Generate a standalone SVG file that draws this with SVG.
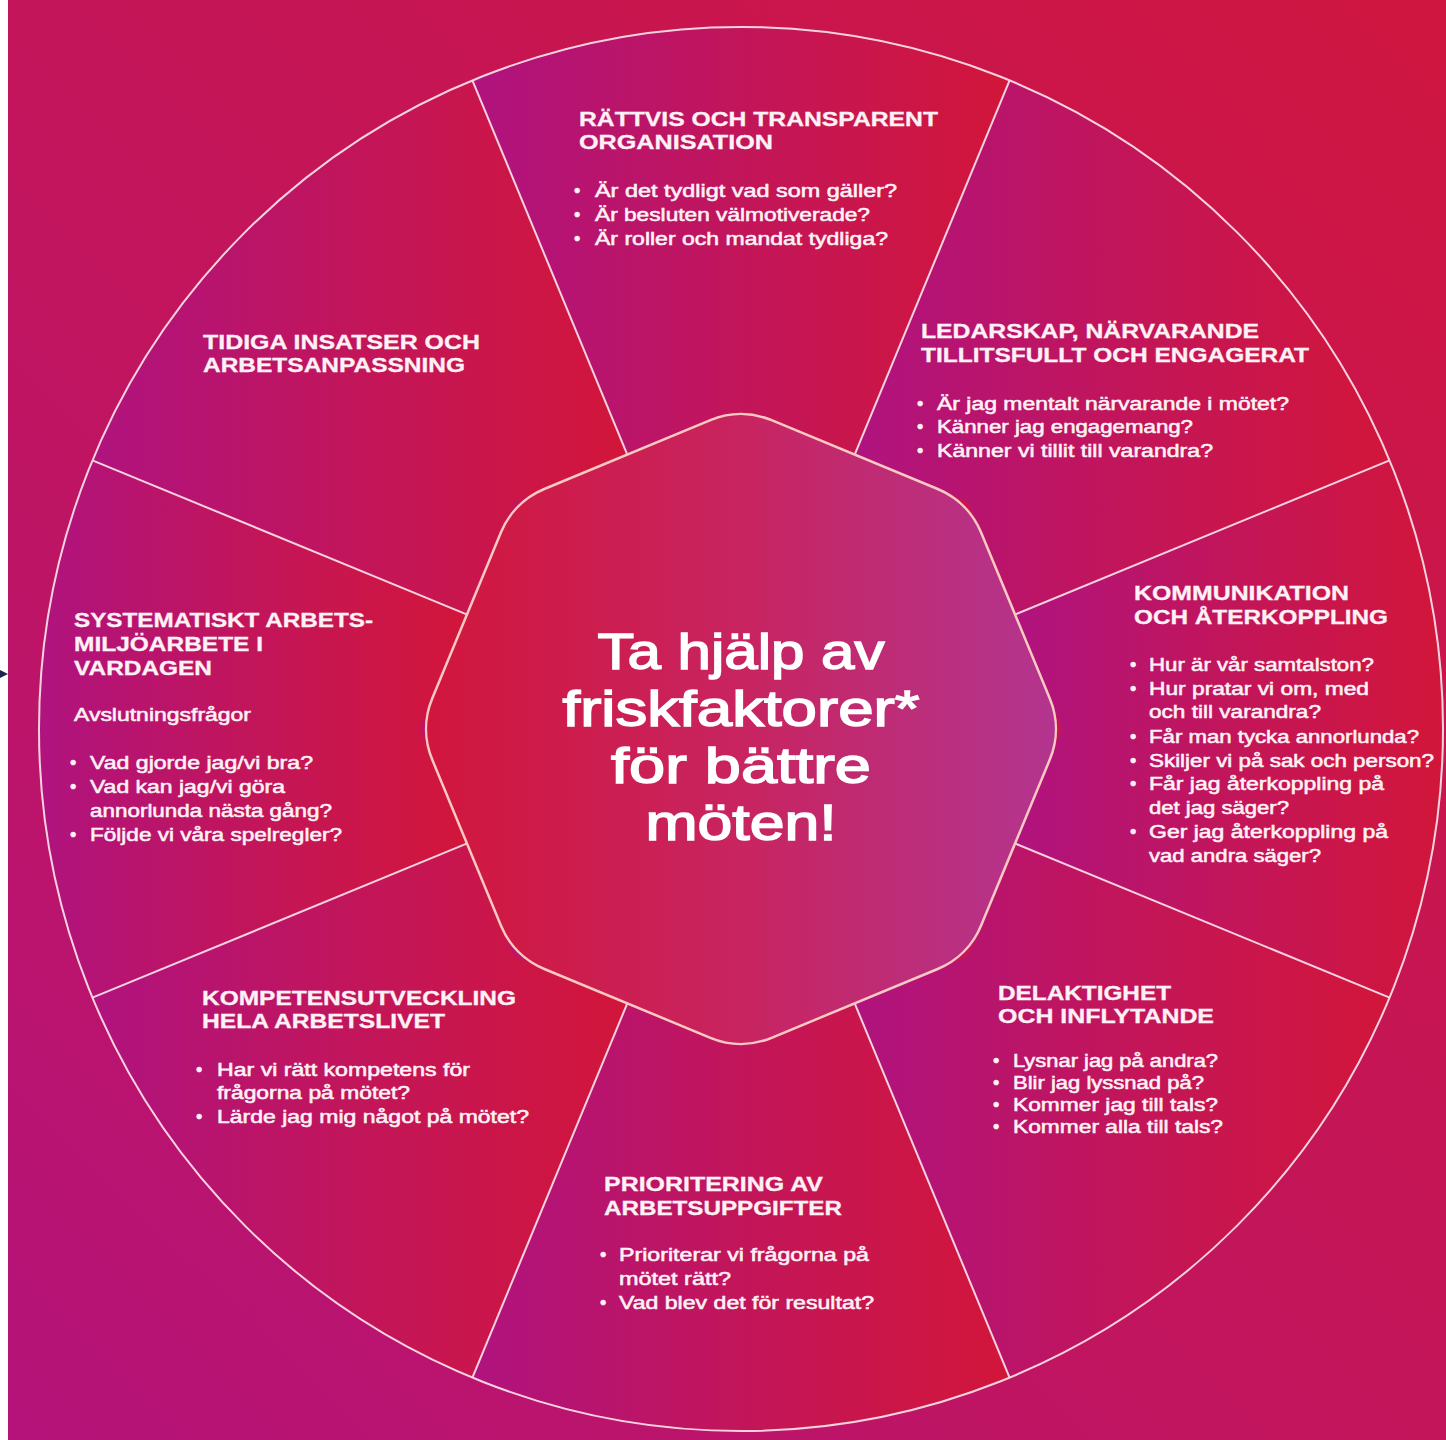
<svg xmlns="http://www.w3.org/2000/svg" width="1446" height="1440" viewBox="0 0 1446 1440">
<defs>
<linearGradient id="bg" x1="0" y1="1" x2="1" y2="0">
<stop offset="0" stop-color="#b5137a"/>
<stop offset="0.5" stop-color="#c3155a"/>
<stop offset="1" stop-color="#cf1640"/>
</linearGradient>
<linearGradient id="seg" x1="0" y1="0" x2="1" y2="0">
<stop offset="0" stop-color="#b0137f"/>
<stop offset="0.5" stop-color="#c2155a"/>
<stop offset="1" stop-color="#d2163a"/>
</linearGradient>
<linearGradient id="oct" x1="0" y1="0" x2="1" y2="0">
<stop offset="0" stop-color="#d1163d"/>
<stop offset="0.5" stop-color="#c82460"/>
<stop offset="1" stop-color="#b3358f"/>
</linearGradient>
<style>
.sg{fill:url(#seg)}
.ln{stroke:#f7d3df;stroke-width:2;fill:none}
.h{font-family:"Liberation Sans",Arial,sans-serif;font-weight:700;font-size:20px;fill:#fdf1f6;stroke:#fdf1f6;stroke-width:0.3}
.b{font-family:"Liberation Sans",Arial,sans-serif;font-weight:400;font-size:18px;fill:#fdf1f6;stroke:#fdf1f6;stroke-width:0.55}
.c{font-family:"Liberation Sans",Arial,sans-serif;font-weight:400;font-size:50px;fill:#ffffff;stroke:#ffffff;stroke-width:1.5;text-anchor:middle}
</style>
</defs>
<rect x="0" y="0" width="1446" height="1440" fill="#ffffff"/>
<rect x="8" y="0" width="1438" height="1440" fill="url(#bg)"/>
<polygon points="0,670 8,674 0,678" fill="#1b2350"/>

<g id="seg-rattvis"><path class="sg" d="M 627.3 454.6 L 472.4 80.4 A 702 702 0 0 1 1009.6 80.4 L 854.7 454.6 L 741 407.5 Z"/></g>
<g id="seg-ledarskap"><path class="sg" d="M 854.7 454.6 L 1009.6 80.4 A 702 702 0 0 1 1389.6 460.4 L 1015.4 614.3 L 968.3 501.7 Z"/></g>
<g id="seg-kommunikation"><path class="sg" d="M 1015.4 614.3 L 1389.6 460.4 A 702 702 0 0 1 1389.6 997.6 L 1015.4 843.7 L 1062.5 729 Z"/></g>
<g id="seg-delaktighet"><path class="sg" d="M 1015.4 843.7 L 1389.6 997.6 A 702 702 0 0 1 1009.6 1377.6 L 854.7 1003.4 L 968.3 956.3 Z"/></g>
<g id="seg-prioritering"><path class="sg" d="M 854.7 1003.4 L 1009.6 1377.6 A 702 702 0 0 1 472.4 1377.6 L 627.3 1003.4 L 741 1050.5 Z"/></g>
<g id="seg-kompetens"><path class="sg" d="M 627.3 1003.4 L 472.4 1377.6 A 702 702 0 0 1 92.4 997.6 L 466.6 843.7 L 513.7 956.3 Z"/></g>
<g id="seg-systematiskt"><path class="sg" d="M 466.6 843.7 L 92.4 997.6 A 702 702 0 0 1 92.4 460.4 L 466.6 614.3 L 419.5 729 Z"/></g>
<g id="seg-tidiga"><path class="sg" d="M 466.6 614.3 L 92.4 460.4 A 702 702 0 0 1 472.4 80.4 L 627.3 454.6 L 513.7 501.7 Z"/></g>

<g id="connectors">
<circle class="ln" cx="741" cy="729" r="702"/>
<line class="ln" x1="627.3" y1="454.6" x2="472.4" y2="80.4"/>
<line class="ln" x1="854.7" y1="454.6" x2="1009.6" y2="80.4"/>
<line class="ln" x1="1015.4" y1="614.3" x2="1389.6" y2="460.4"/>
<line class="ln" x1="1015.4" y1="843.7" x2="1389.6" y2="997.6"/>
<line class="ln" x1="854.7" y1="1003.4" x2="1009.6" y2="1377.6"/>
<line class="ln" x1="627.3" y1="1003.4" x2="472.4" y2="1377.6"/>
<line class="ln" x1="466.6" y1="843.7" x2="92.4" y2="997.6"/>
<line class="ln" x1="466.6" y1="614.3" x2="92.4" y2="460.4"/>
</g>

<g id="center">
<path d="M 771.6 420.2 L 937.7 489 A 80 80 0 0 1 981 532.3 L 1049.8 698.4 A 80 80 0 0 1 1049.8 759.6 L 981 925.7 A 80 80 0 0 1 937.7 969 L 771.6 1037.8 A 80 80 0 0 1 710.4 1037.8 L 544.3 969 A 80 80 0 0 1 501 925.7 L 432.2 759.6 A 80 80 0 0 1 432.2 698.4 L 501 532.3 A 80 80 0 0 1 544.3 489 L 710.4 420.2 A 80 80 0 0 1 771.6 420.2 Z" fill="url(#oct)" stroke="#f9c9c2" stroke-width="2.5"/>
<text class="c" x="741" y="669" textLength="287" lengthAdjust="spacingAndGlyphs">Ta hjälp av</text>
<text class="c" x="741" y="726" textLength="357" lengthAdjust="spacingAndGlyphs">friskfaktorer*</text>
<text class="c" x="741" y="783" textLength="260" lengthAdjust="spacingAndGlyphs">för bättre</text>
<text class="c" x="741" y="840" textLength="191" lengthAdjust="spacingAndGlyphs">möten!</text>
</g>

<g id="node-rattvis">
<text class="h" x="579" y="126" textLength="359" lengthAdjust="spacingAndGlyphs">RÄTTVIS OCH TRANSPARENT</text>
<text class="h" x="579" y="149" textLength="194" lengthAdjust="spacingAndGlyphs">ORGANISATION</text>
<text class="b" x="574" y="197">•</text>
<text class="b" x="595" y="197" textLength="302" lengthAdjust="spacingAndGlyphs">Är det tydligt vad som gäller?</text>
<text class="b" x="574" y="221">•</text>
<text class="b" x="595" y="221" textLength="275" lengthAdjust="spacingAndGlyphs">Är besluten välmotiverade?</text>
<text class="b" x="574" y="245">•</text>
<text class="b" x="595" y="245" textLength="293" lengthAdjust="spacingAndGlyphs">Är roller och mandat tydliga?</text>
</g>

<g id="node-ledarskap">
<text class="h" x="921" y="338" textLength="338" lengthAdjust="spacingAndGlyphs">LEDARSKAP, NÄRVARANDE</text>
<text class="h" x="921" y="362" textLength="388" lengthAdjust="spacingAndGlyphs">TILLITSFULLT OCH ENGAGERAT</text>
<text class="b" x="917" y="410">•</text>
<text class="b" x="937" y="410" textLength="352" lengthAdjust="spacingAndGlyphs">Är jag mentalt närvarande i mötet?</text>
<text class="b" x="917" y="433">•</text>
<text class="b" x="937" y="433" textLength="256" lengthAdjust="spacingAndGlyphs">Känner jag engagemang?</text>
<text class="b" x="917" y="457">•</text>
<text class="b" x="937" y="457" textLength="276" lengthAdjust="spacingAndGlyphs">Känner vi tillit till varandra?</text>
</g>

<g id="node-kommunikation">
<text class="h" x="1134" y="600" textLength="215" lengthAdjust="spacingAndGlyphs">KOMMUNIKATION</text>
<text class="h" x="1134" y="624" textLength="254" lengthAdjust="spacingAndGlyphs">OCH ÅTERKOPPLING</text>
<text class="b" x="1130" y="671">•</text>
<text class="b" x="1149" y="671" textLength="225" lengthAdjust="spacingAndGlyphs">Hur är vår samtalston?</text>
<text class="b" x="1130" y="695">•</text>
<text class="b" x="1149" y="695" textLength="220" lengthAdjust="spacingAndGlyphs">Hur pratar vi om, med</text>
<text class="b" x="1149" y="718" textLength="172" lengthAdjust="spacingAndGlyphs">och till varandra?</text>
<text class="b" x="1130" y="743">•</text>
<text class="b" x="1149" y="743" textLength="270" lengthAdjust="spacingAndGlyphs">Får man tycka annorlunda?</text>
<text class="b" x="1130" y="767">•</text>
<text class="b" x="1149" y="767" textLength="285" lengthAdjust="spacingAndGlyphs">Skiljer vi på sak och person?</text>
<text class="b" x="1130" y="790">•</text>
<text class="b" x="1149" y="790" textLength="235" lengthAdjust="spacingAndGlyphs">Får jag återkoppling på</text>
<text class="b" x="1149" y="814" textLength="140" lengthAdjust="spacingAndGlyphs">det jag säger?</text>
<text class="b" x="1130" y="838">•</text>
<text class="b" x="1149" y="838" textLength="239" lengthAdjust="spacingAndGlyphs">Ger jag återkoppling på</text>
<text class="b" x="1149" y="862" textLength="172" lengthAdjust="spacingAndGlyphs">vad andra säger?</text>
</g>

<g id="node-delaktighet">
<text class="h" x="998" y="1000" textLength="173" lengthAdjust="spacingAndGlyphs">DELAKTIGHET</text>
<text class="h" x="998" y="1023" textLength="216" lengthAdjust="spacingAndGlyphs">OCH INFLYTANDE</text>
<text class="b" x="993" y="1067">•</text>
<text class="b" x="1013" y="1067" textLength="205" lengthAdjust="spacingAndGlyphs">Lysnar jag på andra?</text>
<text class="b" x="993" y="1089">•</text>
<text class="b" x="1013" y="1089" textLength="191" lengthAdjust="spacingAndGlyphs">Blir jag lyssnad på?</text>
<text class="b" x="993" y="1111">•</text>
<text class="b" x="1013" y="1111" textLength="205" lengthAdjust="spacingAndGlyphs">Kommer jag till tals?</text>
<text class="b" x="993" y="1133">•</text>
<text class="b" x="1013" y="1133" textLength="210" lengthAdjust="spacingAndGlyphs">Kommer alla till tals?</text>
</g>

<g id="node-prioritering">
<text class="h" x="604" y="1191" textLength="219" lengthAdjust="spacingAndGlyphs">PRIORITERING AV</text>
<text class="h" x="604" y="1215" textLength="238" lengthAdjust="spacingAndGlyphs">ARBETSUPPGIFTER</text>
<text class="b" x="600" y="1261">•</text>
<text class="b" x="619" y="1261" textLength="250" lengthAdjust="spacingAndGlyphs">Prioriterar vi frågorna på</text>
<text class="b" x="619" y="1285" textLength="112" lengthAdjust="spacingAndGlyphs">mötet rätt?</text>
<text class="b" x="600" y="1309">•</text>
<text class="b" x="619" y="1309" textLength="255" lengthAdjust="spacingAndGlyphs">Vad blev det för resultat?</text>
</g>

<g id="node-kompetens">
<text class="h" x="202" y="1005" textLength="314" lengthAdjust="spacingAndGlyphs">KOMPETENSUTVECKLING</text>
<text class="h" x="202" y="1028" textLength="243" lengthAdjust="spacingAndGlyphs">HELA ARBETSLIVET</text>
<text class="b" x="196" y="1076">•</text>
<text class="b" x="217" y="1076" textLength="253" lengthAdjust="spacingAndGlyphs">Har vi rätt kompetens för</text>
<text class="b" x="217" y="1099" textLength="193" lengthAdjust="spacingAndGlyphs">frågorna på mötet?</text>
<text class="b" x="196" y="1123">•</text>
<text class="b" x="217" y="1123" textLength="312" lengthAdjust="spacingAndGlyphs">Lärde jag mig något på mötet?</text>
</g>

<g id="node-systematiskt">
<text class="h" x="74" y="627" textLength="299" lengthAdjust="spacingAndGlyphs">SYSTEMATISKT ARBETS-</text>
<text class="h" x="74" y="651" textLength="189" lengthAdjust="spacingAndGlyphs">MILJÖARBETE I</text>
<text class="h" x="74" y="675" textLength="138" lengthAdjust="spacingAndGlyphs">VARDAGEN</text>
<text class="b" x="74" y="721" textLength="177" lengthAdjust="spacingAndGlyphs">Avslutningsfrågor</text>
<text class="b" x="70" y="769">•</text>
<text class="b" x="90" y="769" textLength="223" lengthAdjust="spacingAndGlyphs">Vad gjorde jag/vi bra?</text>
<text class="b" x="70" y="793">•</text>
<text class="b" x="90" y="793" textLength="195" lengthAdjust="spacingAndGlyphs">Vad kan jag/vi göra</text>
<text class="b" x="90" y="817" textLength="242" lengthAdjust="spacingAndGlyphs">annorlunda nästa gång?</text>
<text class="b" x="70" y="841">•</text>
<text class="b" x="90" y="841" textLength="252" lengthAdjust="spacingAndGlyphs">Följde vi våra spelregler?</text>
</g>

<g id="node-tidiga">
<text class="h" x="203" y="349" textLength="277" lengthAdjust="spacingAndGlyphs">TIDIGA INSATSER OCH</text>
<text class="h" x="203" y="372" textLength="262" lengthAdjust="spacingAndGlyphs">ARBETSANPASSNING</text>
</g>
</svg>
